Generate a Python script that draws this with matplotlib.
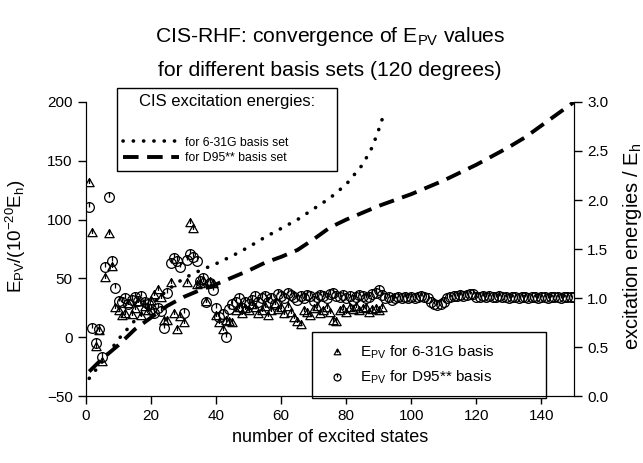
import numpy as np
import matplotlib
matplotlib.use('Agg')
import matplotlib.pyplot as plt
from matplotlib.path import Path
from matplotlib.lines import Line2D

plt.rcParams['font.family'] = ['Liberation Sans', 'DejaVu Sans']
plt.rcParams['mathtext.fontset'] = 'custom'
plt.rcParams['mathtext.rm'] = 'Liberation Sans'
plt.rcParams['mathtext.it'] = 'Liberation Sans:italic'

# E_PV values, 6-31G basis (states 1..91)
epv_631g = [131, 89, -8, 5, -21, 50, 88, 60, 25, 22,
            18, 20, 28, 19, 24, 30, 18, 26, 22, 31,
            36, 40, 33, 14, 14, 46, 20, 6, 17, 12,
            46, 97, 92, 44, 45, 48, 30, 47, 45, 18,
            12, 6, 14, 13, 12, 22, 25, 20, 24, 22,
            27, 25, 20, 22, 26, 18, 22, 28, 23, 25,
            20, 26, 21, 16, 13, 10, 22, 21, 18, 24,
            26, 20, 22, 25, 21, 14, 13, 22, 24, 21,
            25, 23, 26, 22, 24, 25, 21, 23, 24, 22, 25]

# E_PV values, D95** basis (states 1..150)
epv_d95 = [111, 8, -5, 7, -17, 60, 119, 65, 42, 31,
           30, 33, 28, 32, 34, 31, 35, 30, 28, 24,
           21, 25, 22, 8, 38, 63, 67, 65, 60, 21,
           66, 71, 68, 65, 48, 50, 30, 46, 40, 25,
           17, 20, 0, 24, 28, 30, 33, 25, 30, 28,
           32, 35, 30, 33, 35, 30, 33, 28, 37, 35,
           33, 38, 36, 34, 32, 35, 33, 36, 35, 31,
           34, 36, 35, 33, 37, 38, 35, 34, 36, 33,
           35, 32, 34, 36, 35, 33, 34, 37, 38, 40,
           36, 33, 34, 32, 33, 34, 33, 34, 33, 34,
           33, 34, 35, 34, 33, 30, 28, 27, 28, 30,
           33, 34, 35, 35, 36, 35, 36, 37, 37, 34,
           34, 35, 34, 35, 34, 34, 35, 34, 34, 33,
           34, 34, 33, 34, 34, 33, 34, 34, 33, 34,
           34, 33, 34, 34, 34, 33, 34, 34, 34, 34]

# CIS excitation energies (E_h), read at selected states
exc_631g_n = [1, 5, 10, 15, 20, 25, 30, 35, 40, 45, 50, 55, 60, 65,
              70, 75, 80, 85, 88, 90, 91]
exc_631g = [0.18, 0.35, 0.58, 0.77, 0.93, 1.08, 1.20, 1.28, 1.35, 1.43,
            1.52, 1.62, 1.71, 1.80, 1.91, 2.02, 2.16, 2.36, 2.54, 2.72, 2.82]

exc_d95_n = [1, 5, 10, 15, 20, 25, 30, 35, 40, 45, 50, 55, 60, 65, 70, 75,
             80, 85, 90, 95, 100, 105, 110, 115, 120, 125, 130, 135, 140,
             145, 150]
exc_d95 = [0.25, 0.38, 0.52, 0.68, 0.80, 0.92, 1.01, 1.08, 1.14, 1.21, 1.28,
           1.36, 1.42, 1.49, 1.60, 1.72, 1.80, 1.87, 1.94, 2.00, 2.06, 2.13,
           2.20, 2.28, 2.36, 2.45, 2.54, 2.64, 2.76, 2.88, 3.00]

# open markers with a small tick inside, like the original
circ = Path.make_compound_path(Path.unit_circle(),
                               Path([[0, 0], [0, 1]]))
tri = Path.make_compound_path(
    Path([[0, 1], [-0.95, -0.65], [0.95, -0.65], [0, 1]],
         [Path.MOVETO, Path.LINETO, Path.LINETO, Path.CLOSEPOLY]),
    Path([[0, 1], [0, -0.1]]))

fig = plt.figure(figsize=(6.43, 4.63), dpi=100)
ax = fig.add_axes([0.1337, 0.1447, 0.759, 0.635])
ax2 = ax.twinx()

n1 = np.arange(1, len(epv_631g) + 1)
n2 = np.arange(1, len(epv_d95) + 1)
mk = dict(linestyle='none', markerfacecolor='none',
          markeredgecolor='black', markeredgewidth=0.9)
ax.plot(n1, epv_631g, marker=tri, markersize=7, **mk)
ax.plot(n2, epv_d95, marker=circ, markersize=7, **mk)

dotted = dict(color='black', linewidth=2.6, linestyle=(0, (0.05, 2.8)),
              dash_capstyle='round')
dashed = dict(color='black', linewidth=2.8, linestyle=(0, (4.0, 2.2)))
ax2.plot(exc_631g_n, exc_631g, **dotted)
ax2.plot(exc_d95_n, exc_d95, **dashed)

ax.set_xlim(0, 150)
ax.set_ylim(-50, 200)
ax2.set_ylim(0, 3.0)
ax.set_xticks(np.arange(0, 141, 20))
ax.set_yticks(np.arange(-50, 201, 50))
ax2.set_yticks(np.arange(0, 3.01, 0.5))
ax2.set_yticklabels(['%.1f' % v for v in np.arange(0, 3.01, 0.5)])

for a in (ax, ax2):
    a.spines['top'].set_visible(False)
    a.tick_params(direction='out', length=6, width=1, labelsize=11,
                  colors='black')

ax.set_xlabel('number of excited states', fontsize=13)
ax.set_ylabel(r'E$_{\mathrm{PV}}$/(10$^{-20}$E$_{\mathrm{h}}$)', fontsize=13.5)
ax2.set_ylabel(r'excitation energies / E$_{\mathrm{h}}$', fontsize=14.5)
ax.yaxis.set_label_coords(-0.118, 0.545)
ax2.yaxis.set_label_coords(1.097, 0.51)

fig.text(0.513, 0.922, r'CIS-RHF: convergence of E$_{\mathrm{PV}}$ values',
         ha='center', va='center', fontsize=15.2)
fig.text(0.513, 0.847, 'for different basis sets (120 degrees)',
         ha='center', va='center', fontsize=15.2)

h_lines = [Line2D([], [], **dotted), Line2D([], [], **dashed)]
leg1 = ax2.legend(h_lines, ['for 6-31G basis set', 'for D95** basis set'],
                  title='CIS excitation energies:\n', fontsize=8.8,
                  title_fontsize=12, loc='upper left',
                  bbox_to_anchor=(0.182, 0.63, 0.342, 0.18),
                  bbox_transform=fig.transFigure, mode='expand',
                  borderaxespad=0, handlelength=4.6, handletextpad=0.45,
                  fancybox=False, framealpha=1, edgecolor='black',
                  borderpad=0.5, labelspacing=0.3)
leg1.get_frame().set_linewidth(1)
leg1.get_title().set_linespacing(1.75)

h_pts = [Line2D([], [], marker=tri, markersize=5, **mk),
         Line2D([], [], marker=circ, markersize=5, **mk)]
leg2 = ax.legend(h_pts, [r'E$_{\mathrm{PV}}$ for 6-31G basis',
                         r'E$_{\mathrm{PV}}$ for D95** basis'],
                 fontsize=11, loc='upper left',
                 bbox_to_anchor=(0.4852, 0.152, 0.364, 0.13),
                 bbox_transform=fig.transFigure, mode='expand',
                 borderaxespad=0, handlelength=1.8, handletextpad=0.6,
                 fancybox=False, framealpha=1, edgecolor='black',
                 borderpad=0.75, labelspacing=0.5)
leg2.get_frame().set_linewidth(1)

fig.savefig('out.png', dpi=100)
